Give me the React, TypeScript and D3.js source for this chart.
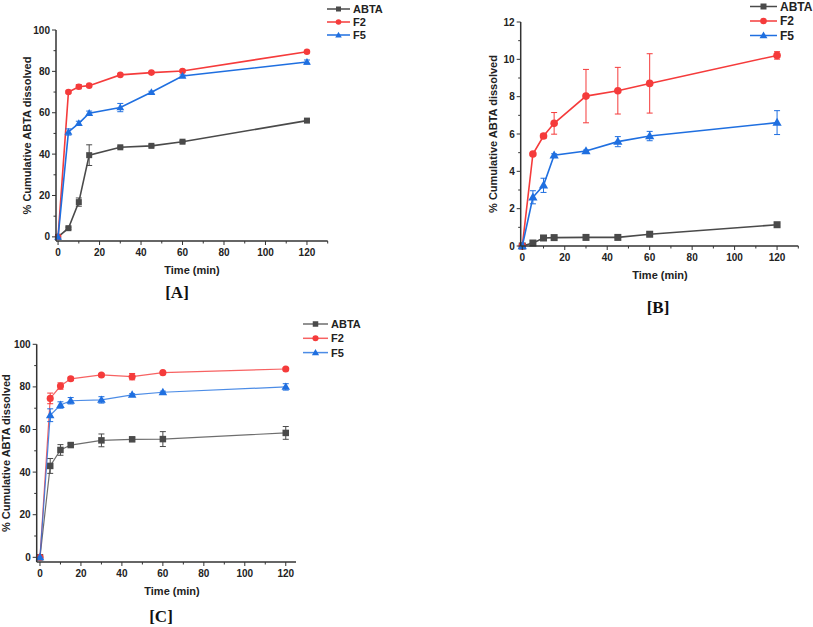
import React from "react";
import * as d3 from "d3";

const times = [0, 5, 10, 15, 30, 45, 60, 120];
const seriesNames = ["ABTA", "F2", "F5"];

// Panel A
const aABTA = [0, 4.2, 16.8, 39.5, 43.3, 44, 46, 56.2];
const aF2 = [0, 70, 72.6, 73.1, 78.3, 79.4, 80.2, 89.5];
const aF5 = [0, 50.7, 54.9, 59.8, 62.5, 69.9, 77.8, 84.5];
const aABTAErr = [0, 0.5, 2, 5, 0.5, 0.5, 0.5, 0.5];
const aF2Err = [0, 0.5, 1, 0.5, 0.5, 0.5, 0.5, 0.5];
const aF5Err = [0, 1.5, 1, 1, 2, 0.5, 0.5, 1];

// Panel B
const bABTA = [0, 0.16, 0.43, 0.45, 0.46, 0.46, 0.63, 1.14];
const bF2 = [0, 4.93, 5.89, 6.57, 8.03, 8.32, 8.71, 10.21];
const bF5 = [0, 2.61, 3.25, 4.86, 5.09, 5.59, 5.89, 6.61];
const bABTAErr = [0, 0.03, 0.05, 0.05, 0.05, 0.05, 0.05, 0.07];
const bF2Err = [0, 0.05, 0.12, 0.58, 1.43, 1.25, 1.59, 0.2];
const bF5Err = [0, 0.35, 0.38, 0.08, 0.05, 0.27, 0.25, 0.64];

// Panel C
const cABTA = [0, 42.9, 50.4, 52.7, 54.9, 55.4, 55.5, 58.4];
const cF2 = [0, 74.6, 80.4, 83.8, 85.6, 84.8, 86.7, 88.4];
const cF5 = [0, 66.7, 71.5, 73.5, 73.9, 76.3, 77.5, 80];
const cABTAErr = [0, 3.5, 2.5, 0.8, 3, 0.8, 3.5, 3];
const cF2Err = [0, 2.5, 1.5, 0.8, 0.5, 1.5, 0.5, 0.5];
const cF5Err = [0, 3, 1.5, 1.5, 1.5, 0.5, 0.5, 1.5];

const xMajor = [0, 20, 40, 60, 80, 100, 120];
const yMajorPct = [0, 20, 40, 60, 80, 100];
const yMajorB = [0, 2, 4, 6, 8, 10, 12];

const colors = ["#4a4a4a", "#f53b3b", "#1f6fe0"];
const FONT = "Arial, 'Liberation Sans', sans-serif";

type PanelCfg = {
  label: string;
  xDom: [number, number];
  xRange: [number, number];
  yDom: [number, number];
  yRange: [number, number];
  yTicks: number[];
  yMinorStep: number;
  series: number[][];
  errs: number[][];
  markerSize: number;
  lineWidth: number;
  lineOpacity: number;
  yLabelX: number;
  xTitleY: number;
  xTitleX: number;
  panelLabelX: number;
  panelLabelY: number;
  legendX: number;
  legendY: number;
  legendStep: number;
  legendLen: number;
  legendFont: number;
};

function Marker({ kind, x, y, s, color }: { kind: number; x: number; y: number; s: number; color: string }) {
  if (kind === 0) return <rect x={x - s / 2} y={y - s / 2} width={s} height={s} fill={color} />;
  if (kind === 1) return <circle cx={x} cy={y} r={s / 2 + 0.3} fill={color} />;
  const sym = d3.symbol().type(d3.symbolTriangle).size(s * s * 0.75)();
  return <path d={sym || ""} transform={`translate(${x},${y + 0.5})`} fill={color} />;
}

function Panel({ cfg }: { cfg: PanelCfg }) {
  const x = d3.scaleLinear().domain(cfg.xDom).range(cfg.xRange);
  const y = d3.scaleLinear().domain(cfg.yDom).range(cfg.yRange);
  const axisColor = "#333";
  const x0 = cfg.xRange[0];
  const yBase = cfg.yRange[0];
  const xMinor = d3.range(10, cfg.xDom[1] + 0.01, 20);
  const yMinor = d3.range(cfg.yMinorStep, cfg.yDom[1], cfg.yMinorStep * 2);
  const line = d3
    .line<number>()
    .x((_, i) => x(times[i]))
    .y((v) => y(v));
  const yMid = (cfg.yRange[0] + cfg.yRange[1]) / 2;
  return (
    <g fontFamily={FONT}>
      {cfg.series.map((vals, si) => (
        <g key={si}>
          <path d={line(vals) || ""} fill="none" stroke={colors[si]} strokeWidth={cfg.lineWidth} strokeOpacity={cfg.lineOpacity} />
          {vals.map((v, i) => {
            const e = cfg.errs[si][i];
            if (!e) return null;
            const px = x(times[i]);
            return (
              <g key={i} stroke={colors[si]} strokeWidth={1}>
                <line x1={px} x2={px} y1={y(v - e)} y2={y(v + e)} />
                <line x1={px - 3} x2={px + 3} y1={y(v - e)} y2={y(v - e)} />
                <line x1={px - 3} x2={px + 3} y1={y(v + e)} y2={y(v + e)} />
              </g>
            );
          })}
          {vals.map((v, i) => (
            <Marker key={i} kind={si} x={x(times[i])} y={y(v)} s={cfg.markerSize} color={colors[si]} />
          ))}
        </g>
      ))}
      <line x1={x0} x2={x0} y1={yBase} y2={cfg.yRange[1]} stroke={axisColor} strokeWidth={1.5} />
      <line x1={x0} x2={cfg.xRange[1]} y1={yBase} y2={yBase} stroke={axisColor} strokeWidth={1.5} />
      {xMajor.map((t) => (
        <g key={t}>
          <line x1={x(t)} x2={x(t)} y1={yBase} y2={yBase + 4} stroke={axisColor} strokeWidth={1} />
          <text x={x(t)} y={yBase + 15} textAnchor="middle" fontSize={10} fontWeight="bold" fill="#222">
            {t}
          </text>
        </g>
      ))}
      {xMinor.map((t) => (
        <line key={t} x1={x(t)} x2={x(t)} y1={yBase} y2={yBase + 2.5} stroke={axisColor} strokeWidth={1} />
      ))}
      {cfg.yTicks.map((t) => (
        <g key={t}>
          <line x1={x0 - 4} x2={x0} y1={y(t)} y2={y(t)} stroke={axisColor} strokeWidth={1} />
          <text x={x0 - 6} y={y(t) + 3.5} textAnchor="end" fontSize={10} fontWeight="bold" fill="#222">
            {t}
          </text>
        </g>
      ))}
      {yMinor.map((t) => (
        <line key={t} x1={x0 - 2.5} x2={x0} y1={y(t)} y2={y(t)} stroke={axisColor} strokeWidth={1} />
      ))}
      <text x={cfg.xTitleX} y={cfg.xTitleY} textAnchor="middle" fontSize={11} fontWeight="bold" fill="#222">
        Time (min)
      </text>
      <text
        transform={`translate(${cfg.yLabelX},${yMid}) rotate(-90)`}
        textAnchor="middle"
        fontSize={11}
        fontWeight="bold"
        fill="#222"
      >
        % Cumulative ABTA dissolved
      </text>
      <text
        x={cfg.panelLabelX}
        y={cfg.panelLabelY}
        textAnchor="middle"
        fontSize={17}
        fontWeight="bold"
        fontFamily="'Liberation Serif', 'Times New Roman', serif"
        fill="#111"
      >
        {cfg.label}
      </text>
      {seriesNames.map((n, i) => {
        const ly = cfg.legendY + i * cfg.legendStep;
        const lx = cfg.legendX;
        return (
          <g key={n}>
            <line x1={lx} x2={lx + cfg.legendLen} y1={ly} y2={ly} stroke={colors[i]} strokeWidth={1.5} strokeOpacity={cfg.lineOpacity} />
            <Marker kind={i} x={lx + cfg.legendLen / 2} y={ly} s={cfg.markerSize - 1} color={colors[i]} />
            <text x={lx + cfg.legendLen + 3} y={ly + 4} fontSize={cfg.legendFont} fontWeight="bold" fill="#222">
              {n}
            </text>
          </g>
        );
      })}
    </g>
  );
}

const panels: PanelCfg[] = [
  {
    label: "[A]",
    xDom: [-1, 130],
    xRange: [56, 327.7],
    yDom: [-2, 100],
    yRange: [241, 30],
    yTicks: yMajorPct,
    yMinorStep: 10,
    series: [aABTA, aF2, aF5],
    errs: [aABTAErr, aF2Err, aF5Err],
    markerSize: 6,
    lineWidth: 1.6,
    lineOpacity: 1,
    yLabelX: 31,
    xTitleY: 274,
    xTitleX: 192,
    panelLabelX: 177,
    panelLabelY: 298,
    legendX: 327,
    legendY: 9,
    legendStep: 13,
    legendLen: 23,
    legendFont: 11,
  },
  {
    label: "[B]",
    xDom: [-0.75, 130],
    xRange: [520.7, 798.3],
    yDom: [0, 12],
    yRange: [246, 22],
    yTicks: yMajorB,
    yMinorStep: 1,
    series: [bABTA, bF2, bF5],
    errs: [bABTAErr, bF2Err, bF5Err],
    markerSize: 7,
    lineWidth: 1.6,
    lineOpacity: 1,
    yLabelX: 497,
    xTitleY: 279,
    xTitleX: 660,
    panelLabelX: 658,
    panelLabelY: 313,
    legendX: 750,
    legendY: 6.5,
    legendStep: 14.5,
    legendLen: 27,
    legendFont: 12,
  },
  {
    label: "[C]",
    xDom: [-1.6, 125],
    xRange: [36.7, 296],
    yDom: [-2.2, 100],
    yRange: [562, 344.3],
    yTicks: yMajorPct,
    yMinorStep: 10,
    series: [cABTA, cF2, cF5],
    errs: [cABTAErr, cF2Err, cF5Err],
    markerSize: 6.5,
    lineWidth: 1.2,
    lineOpacity: 0.8,
    yLabelX: 10,
    xTitleY: 595,
    xTitleX: 172,
    panelLabelX: 161,
    panelLabelY: 622,
    legendX: 303,
    legendY: 324,
    legendStep: 14.3,
    legendLen: 25,
    legendFont: 11,
  },
];

export default function App() {
  return (
    <svg
      width={813}
      height={627}
      style={{ position: "absolute", left: 0, top: 0, background: "#fff" }}
    >
      <rect width={813} height={627} fill="#fff" />
      {panels.map((p) => (
        <Panel key={p.label} cfg={p} />
      ))}
    </svg>
  );
}
